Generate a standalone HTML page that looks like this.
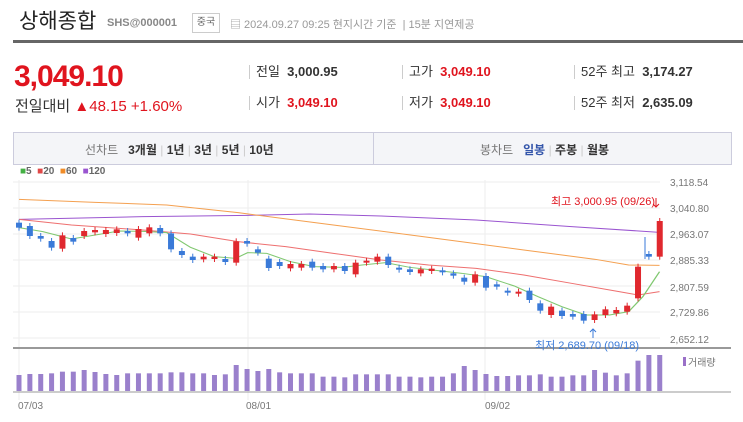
<!DOCTYPE html>
<html><head><meta charset="utf-8"><style>
body{margin:0;width:743px;height:422px;background:#fff;font-family:"Liberation Sans","Noto Sans CJK KR",sans-serif;position:relative;overflow:hidden}
.a{position:absolute;white-space:nowrap}
.r{color:#e0141e}
.s{font-size:13px;color:#333;line-height:14px;border-left:1px solid #ccc;padding-left:6px}
</style></head><body>
<div class="a" style="left:19px;top:9px;font-size:21px;color:#222;line-height:26px">상해종합</div>
<div class="a" style="left:107px;top:17px;font-size:11px;color:#888;font-weight:bold">SHS@000001</div>
<div class="a" style="left:192px;top:13px;width:26px;height:18px;font-size:10px;color:#666;border:1px solid #ccc;text-align:center;line-height:18px">중국</div>
<div class="a" style="left:230px;top:16px;font-size:11px;color:#999">▤ 2024.09.27 09:25 현지시간 기준 &nbsp;| 15분 지연제공</div>
<div class="a" style="left:13px;top:40px;width:730px;height:3px;background:#666"></div>
<div class="a r" style="left:14px;top:61px;font-size:30px;font-weight:bold;letter-spacing:-1px;line-height:32px">3,049.10</div>
<div class="a" style="left:15px;top:99px;font-size:15px;color:#333;line-height:16px">전일대비 <span class="r">▲48.15 +1.60%</span></div>
<div class="a s" style="left:249px;top:65px">전일 &nbsp;<b>3,000.95</b></div>
<div class="a s" style="left:249px;top:96px">시가 &nbsp;<b class="r">3,049.10</b></div>
<div class="a s" style="left:402px;top:65px">고가 &nbsp;<b class="r">3,049.10</b></div>
<div class="a s" style="left:402px;top:96px">저가 &nbsp;<b class="r">3,049.10</b></div>
<div class="a s" style="left:574px;top:65px">52주 최고 &nbsp;<b>3,174.27</b></div>
<div class="a s" style="left:574px;top:96px">52주 최저 &nbsp;<b>2,635.09</b></div>
<div class="a" style="left:13px;top:132px;width:717px;height:31px;background:#f4f5f8;border:1px solid #ccd"></div>
<div class="a" style="left:373px;top:132px;width:1px;height:32px;background:#ccd"></div>
<div class="a" style="left:85px;top:141px;font-size:12px;color:#777">선차트 &nbsp;&nbsp;<b style="color:#333">3개월</b> <span style="color:#ccc">|</span> <b style="color:#333">1년</b> <span style="color:#ccc">|</span> <b style="color:#333">3년</b> <span style="color:#ccc">|</span> <b style="color:#333">5년</b> <span style="color:#ccc">|</span> <b style="color:#333">10년</b></div>
<div class="a" style="left:480px;top:141px;font-size:12px;color:#777">봉차트 &nbsp;&nbsp;<b style="color:#3355aa">일봉</b> <span style="color:#ccc">|</span> <b style="color:#333">주봉</b> <span style="color:#ccc">|</span> <b style="color:#333">월봉</b></div>
<div class="a" style="left:20px;top:166px;font-size:10px;color:#666;font-weight:bold"><span style="color:#44b044">■</span>5 &nbsp;<span style="color:#e04848">■</span>20 &nbsp;<span style="color:#f08c28">■</span>60 &nbsp;<span style="color:#9a55d0">■</span>120</div>
<svg class="a" style="left:0;top:0" width="743" height="422">
<g font-size="10" fill="#777" font-family="Liberation Sans,sans-serif">
<text x="670" y="186">3,118.54</text><text x="670" y="212">3,040.80</text><text x="670" y="238">2,963.07</text><text x="670" y="264">2,885.33</text><text x="670" y="291">2,807.59</text><text x="670" y="316">2,729.86</text><text x="670" y="343">2,652.12</text>
<text x="18" y="409">07/03</text><text x="246" y="409">08/01</text><text x="485" y="409">09/02</text>
</g>
<g stroke="#eee" stroke-width="1">
<line x1="13" x2="660" y1="182" y2="182"/><line x1="13" x2="660" y1="208" y2="208"/><line x1="13" x2="660" y1="234" y2="234"/><line x1="13" x2="660" y1="260" y2="260"/><line x1="13" x2="660" y1="286" y2="286"/><line x1="13" x2="660" y1="312" y2="312"/><line x1="13" x2="660" y1="338" y2="338"/>
<line x1="19" x2="19" y1="180" y2="400"/><line x1="248" x2="248" y1="180" y2="400"/><line x1="485" x2="485" y1="180" y2="400"/>
</g>
<line x1="13" x2="731" y1="348" y2="348" stroke="#999" stroke-width="2"/>
<line x1="13" x2="731" y1="392" y2="392" stroke="#999" stroke-width="1"/>
<g transform="translate(0,160) scale(0.4762,0.3333)" fill="none" stroke-width="3">
<polyline stroke="#9a55d0" points="40,178 300,170 520,166 650,162 800,168 1000,180 1200,200 1385,217"/>
<polyline stroke="#f4a050" points="40,118 200,127 350,135 500,158 700,195 900,232 1100,270 1250,298 1320,315 1385,316"/>
<polyline stroke="#ee7070" points="40,178 150,195 300,210 400,222 500,245 600,260 700,280 800,300 900,315 1000,325 1100,345 1200,370 1300,395 1340,405 1385,395"/>
<polyline stroke="#80c870" points="40,203 90,215 150,237 200,225 250,213 300,214 350,218 400,262 450,290 495,295 520,278 560,280 610,305 660,320 720,322 760,315 810,308 860,322 920,332 970,340 1020,350 1080,378 1130,410 1180,440 1230,465 1280,465 1320,455 1350,410 1385,335"/>
</g>
<g id="c"></g>
<text x="551" y="205" font-size="11" fill="#e0141e">최고 3,000.95 (09/26)</text>
<text x="535" y="349" font-size="11" fill="#3a7ad8">최저 2,689.70 (09/18)</text>
<path d="M656 198 v9 M653 204 l3 3 l3 -3" stroke="#e0141e" fill="none"/>
<path d="M593 338 v-9 M590 332 l3 -3 l3 3" stroke="#3a7ad8" fill="none"/>
<rect x="683" y="357" width="3" height="9" fill="#9a70c8"/>
<text x="688" y="366" font-size="10" fill="#777">거래량</text>
</svg>
<script>
var C=[[188,203,0],[198,228,0],[228,236,0],[243,263,0],[226,266,1],[234,245,0],[213,228,1],[210,217,1],[210,222,1],[208,219,1],[213,220,0],[207,233,1],[202,220,1],[204,220,0],[220,268,0],[273,285,0],[290,300,0],[290,298,1],[290,297,1],[297,306,0],[244,308,1],[243,251,0],[268,278,0],[296,324,0],[306,318,0],[312,325,1],[312,323,1],[305,323,0],[318,328,0],[318,328,1],[318,333,0],[308,343,1],[302,305,1],[290,305,1],[290,315,0],[323,328,0],[328,336,0],[328,340,1],[326,333,1],[331,337,0],[340,347,0],[353,365,0],[343,368,1],[348,383,0],[373,380,0],[392,398,0],[395,400,1],[392,420,0],[430,452,0],[440,465,1],[452,468,0],[462,470,0],[462,482,0],[463,480,1],[448,465,1],[450,460,1],[437,455,1],[320,415,1],[282,290,0],[183,290,1]];
var V=[645,642,642,640,635,635,630,636,642,645,640,640,640,640,637,637,640,640,645,643,615,627,633,627,637,640,640,640,650,650,652,643,643,643,643,650,650,652,650,650,640,618,630,642,648,648,646,646,643,650,650,646,646,630,638,646,640,602,585,585];
var s='';
for(var i=0;i<60;i++){var x=19+i*10.86,c=C[i],t=160+c[0]/3,b=160+c[1]/3,col=c[2]?'#e0282e':'#3a7ad8';
if(b-t<2)b=t+2;
s+='<line x1="'+x+'" x2="'+x+'" y1="'+(t-3)+'" y2="'+(b+3)+'" stroke="'+col+'"/>';
s+='<rect x="'+(x-3)+'" y="'+t+'" width="6" height="'+(b-t)+'" fill="'+col+'"/>';
var vy=160+V[i]/3;s+='<rect x="'+(x-2.5)+'" y="'+vy+'" width="5" height="'+(391-vy)+'" fill="#9a80cc"/>';}
s+='<line x1="645" x2="645" y1="237" y2="259" stroke="#3a7ad8"/>';
document.getElementById('c').innerHTML=s;
</script>
</body></html>
